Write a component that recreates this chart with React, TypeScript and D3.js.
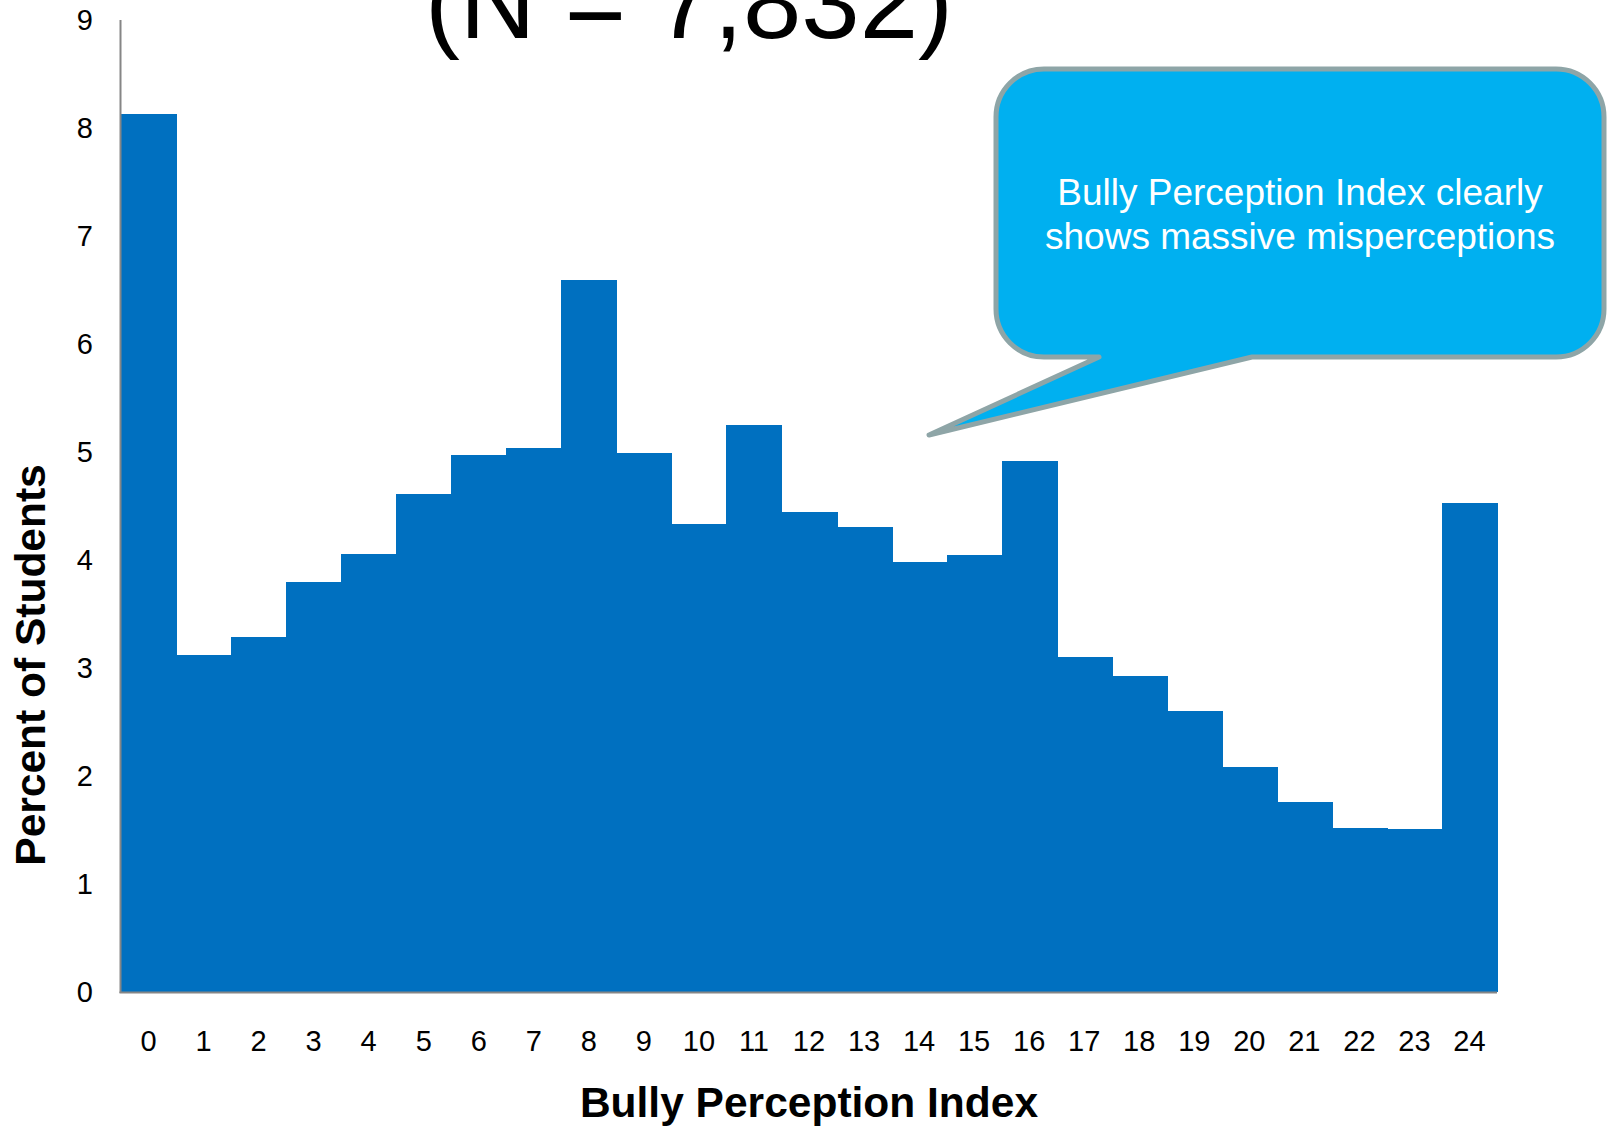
import React from "react";
import * as d3 from "d3";

const categories: number[] = Array.from({ length: 25 }, (_, i) => i);
const percentValues: number[] = [
  8.13, 3.12, 3.29, 3.8, 4.06, 4.61, 4.97, 5.04, 6.59, 4.99, 4.33, 5.25, 4.44,
  4.31, 3.98, 4.05, 4.92, 3.1, 2.93, 2.6, 2.08, 1.76, 1.515, 1.505, 4.53,
];
const yTicks: number[] = [0, 1, 2, 3, 4, 5, 6, 7, 8, 9];
const titleText = "(N = 7,832)";
const xAxisTitle = "Bully Perception Index";
const yAxisTitle = "Percent of Students";
const calloutLines: string[] = [
  "Bully Perception Index clearly",
  "shows massive misperceptions",
];

const W = 1607;
const H = 1130;
const FONT = "'Liberation Sans', Arial, Helvetica, sans-serif";

export default function App() {
  const x = d3
    .scaleBand<number>()
    .domain(categories)
    .range([121, 1497])
    .padding(0);
  const y = d3.scaleLinear().domain([0, 9]).range([992, 20]);

  // callout geometry
  const L = 996,
    T = 69,
    R = 1604,
    B = 357,
    r = 48;
  const calloutPath = [
    `M ${L + r} ${T}`,
    `H ${R - r}`,
    `A ${r} ${r} 0 0 1 ${R} ${T + r}`,
    `V ${B - r}`,
    `A ${r} ${r} 0 0 1 ${R - r} ${B}`,
    `H 1252`,
    `L 929 435`,
    `L 1099 ${B}`,
    `H ${L + r}`,
    `A ${r} ${r} 0 0 1 ${L} ${B - r}`,
    `V ${T + r}`,
    `A ${r} ${r} 0 0 1 ${L + r} ${T}`,
    "Z",
  ].join(" ");

  const x0 = x.range()[0];
  const x1 = x.range()[1];

  return (
    <svg
      width={W}
      height={H}
      viewBox={`0 0 ${W} ${H}`}
      style={{ position: "absolute", left: 0, top: 0, background: "#fff" }}
    >
      <rect x={0} y={0} width={W} height={H} fill="#ffffff" />
      {/* title (partially cut) */}
      <text
        x={689}
        y={38}
        textAnchor="middle"
        fontFamily={FONT}
        fontSize={105}
        fill="#000"
      >
        {titleText}
      </text>

      {/* bars */}
      <g shapeRendering="crispEdges">
        {categories.map((c, i) => (
          <rect
            key={c}
            x={x(c)!}
            y={y(percentValues[i])}
            width={x.bandwidth() + 1}
            height={y(0) - y(percentValues[i])}
            fill="#0070c0"
          />
        ))}
      </g>

      {/* axes */}
      <line x1={x0 - 0.5} x2={x0 - 0.5} y1={y(9)} y2={y(0) + 1} stroke="#868686" strokeWidth={2} />
      <line x1={x0 - 1.5} x2={x1} y1={y(0) + 0.5} y2={y(0) + 0.5} stroke="#868686" strokeWidth={2} />

      {/* y tick labels */}
      {yTicks.map((t) => (
        <text
          key={t}
          x={93}
          y={y(t)}
          dy="0.36em"
          textAnchor="end"
          fontFamily={FONT}
          fontSize={29}
          fill="#000"
        >
          {t}
        </text>
      ))}

      {/* x tick labels */}
      {categories.map((c) => (
        <text
          key={c}
          x={x(c)! + x.bandwidth() / 2}
          y={1051}
          textAnchor="middle"
          fontFamily={FONT}
          fontSize={29}
          fill="#000"
        >
          {c}
        </text>
      ))}

      {/* axis titles */}
      <text
        x={(x0 + x1) / 2}
        y={1117}
        textAnchor="middle"
        fontFamily={FONT}
        fontSize={42.5}
        fontWeight="bold"
        fill="#000"
      >
        {xAxisTitle}
      </text>
      <text
        transform={`translate(45, 665) rotate(-90)`}
        textAnchor="middle"
        fontFamily={FONT}
        fontSize={42.5}
        fontWeight="bold"
        fill="#000"
      >
        {yAxisTitle}
      </text>

      {/* callout */}
      <path
        d={calloutPath}
        fill="#00b0f0"
        stroke="#8ea5a7"
        strokeWidth={5}
        strokeLinejoin="round"
      />
      {calloutLines.map((line, i) => (
        <text
          key={i}
          x={1300}
          y={205 + i * 44}
          textAnchor="middle"
          fontFamily={FONT}
          fontSize={37}
          fill="#ffffff"
        >
          {line}
        </text>
      ))}
    </svg>
  );
}
